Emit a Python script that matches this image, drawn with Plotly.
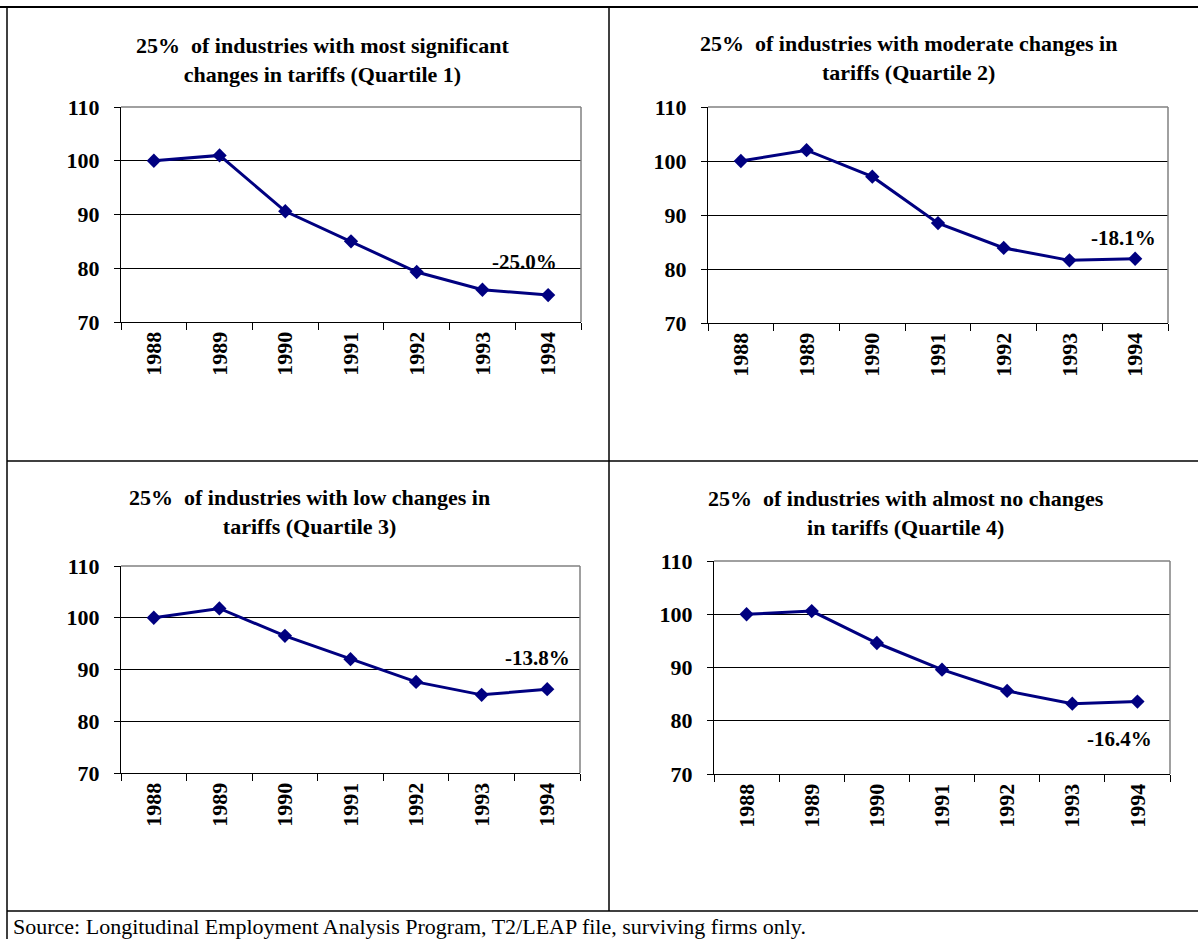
import plotly.graph_objects as go

# Employment index (1988 = 100) by tariff-change quartile
years = ["1988", "1989", "1990", "1991", "1992", "1993", "1994"]
q1_values = [100.0, 101.0, 90.6, 85.0, 79.3, 76.0, 75.0]
q2_values = [100.0, 102.0, 97.1, 88.5, 83.9, 81.6, 81.9]
q3_values = [100.0, 101.8, 96.5, 92.0, 87.6, 85.1, 86.2]
q4_values = [100.0, 100.6, 94.6, 89.6, 85.6, 83.2, 83.6]

titles = [
    "25%&nbsp; of industries with most significant<br>changes in tariffs (Quartile 1)",
    "25%&nbsp; of industries with moderate changes in<br>tariffs (Quartile 2)",
    "25%&nbsp; of industries with low changes in<br>tariffs (Quartile 3)",
    "25%&nbsp; of industries with almost no changes<br>in tariffs (Quartile 4)",
]
y_ticks = [70, 80, 90, 100, 110]
source_note = "Source: Longitudinal Employment Analysis Program, T2/LEAP file, surviving firms only."

W, H = 1198, 939
FONT = "Liberation Serif"
NAVY = "#000080"


def px(x):
    return x / W


def py(y):
    return 1 - y / H


# panel boxes in pixels: left, right, top, bottom; title centre; change-label offset
panels = [
    dict(vals=q1_values, box=(121, 581, 107, 322), tx=322, ty=60, lab=(-24, 33)),
    dict(vals=q2_values, box=(708, 1168, 107, 323), tx=908, ty=58, lab=(-12, 21)),
    dict(vals=q3_values, box=(121, 580, 566, 773), tx=309, ty=512, lab=(-10, 31)),
    dict(vals=q4_values, box=(714, 1170, 561, 774), tx=906, ty=513, lab=(-18, -37)),
]

fig = go.Figure()
annotations = []
shapes = []

for i, p in enumerate(panels):
    n = "" if i == 0 else str(i + 1)
    xa, ya = "x" + n, "y" + n
    l, r, t, b = p["box"]
    vals = p["vals"]

    fig.add_trace(go.Scatter(
        x=years, y=vals, xaxis=xa, yaxis=ya, mode="lines+markers",
        line=dict(color=NAVY, width=3),
        marker=dict(symbol="diamond", size=11, color=NAVY),
        showlegend=False, hoverinfo="skip",
    ))

    fig.layout["xaxis" + n] = dict(
        domain=[px(l), px(r)], anchor=ya, type="category", automargin=False,
        categoryorder="array", categoryarray=years, range=[-0.5, 6.5],
        tickson="boundaries", ticks="outside", ticklen=7, tickcolor="black",
        tickangle=-90, showline=True, linecolor="black", linewidth=1,
        showgrid=False, zeroline=False,
        tickfont=dict(family=FONT, size=22, color="black", weight="bold"),
    )
    fig.layout["yaxis" + n] = dict(
        domain=[py(b), py(t)], anchor=xa, range=[70, 110], automargin=False,
        tickvals=y_ticks, ticks="outside", ticklen=6, tickcolor="black",
        ticklabelstandoff=10,
        showline=True, linecolor="black", linewidth=1,
        showgrid=True, gridcolor="black", gridwidth=1, zeroline=False,
        tickfont=dict(family=FONT, size=22, color="black", weight="bold"),
    )

    # grey top and right edges of the plot area
    shapes.append(dict(type="line", xref=xa + " domain", yref=ya + " domain",
                       x0=0, x1=1, y0=1, y1=1, line=dict(color="#808080", width=1.5)))
    shapes.append(dict(type="line", xref=xa + " domain", yref=ya + " domain",
                       x0=1, x1=1, y0=0, y1=1, line=dict(color="#808080", width=1.5)))

    annotations.append(dict(
        xref="paper", yref="paper", x=px(p["tx"]), y=py(p["ty"]),
        xanchor="center", yanchor="middle",
        text=titles[i], showarrow=False, align="center",
        font=dict(family=FONT, size=22, color="black", weight="bold"),
    ))

    # overall change from the first to the last year, next to the last point
    change = (vals[-1] / vals[0] - 1) * 100
    annotations.append(dict(
        xref=xa, yref=ya, x=len(years) - 1, y=vals[-1],
        xanchor="center", yanchor="middle",
        text=f"{change:.1f}%", showarrow=False,
        xshift=p["lab"][0], yshift=p["lab"][1],
        font=dict(family=FONT, size=21, color="black", weight="bold"),
    ))

annotations.append(dict(
    xref="paper", yref="paper", x=px(11), y=py(926),
    xanchor="left", yanchor="middle",
    text=source_note, showarrow=False,
    font=dict(family=FONT, size=22, color="black"),
))

# table rules around the four panels
rule = dict(color="black", width=1.5)
shapes += [
    dict(type="line", xref="paper", yref="paper", x0=0, x1=1, y0=py(7), y1=py(7),
         line=dict(color="black", width=2)),
    dict(type="line", xref="paper", yref="paper", x0=px(7), x1=px(7), y0=py(7), y1=0, line=rule),
    dict(type="line", xref="paper", yref="paper", x0=px(609), x1=px(609), y0=py(7), y1=py(911), line=rule),
    dict(type="line", xref="paper", yref="paper", x0=px(7), x1=1, y0=py(461), y1=py(461), line=rule),
    dict(type="line", xref="paper", yref="paper", x0=px(7), x1=1, y0=py(911), y1=py(911), line=rule),
]

fig.update_layout(
    width=W, height=H, margin=dict(l=0, r=0, t=0, b=0, autoexpand=False),
    paper_bgcolor="white", plot_bgcolor="white",
    annotations=annotations, shapes=shapes,
    font=dict(family=FONT, color="black"),
)

fig.write_html("out.html")
